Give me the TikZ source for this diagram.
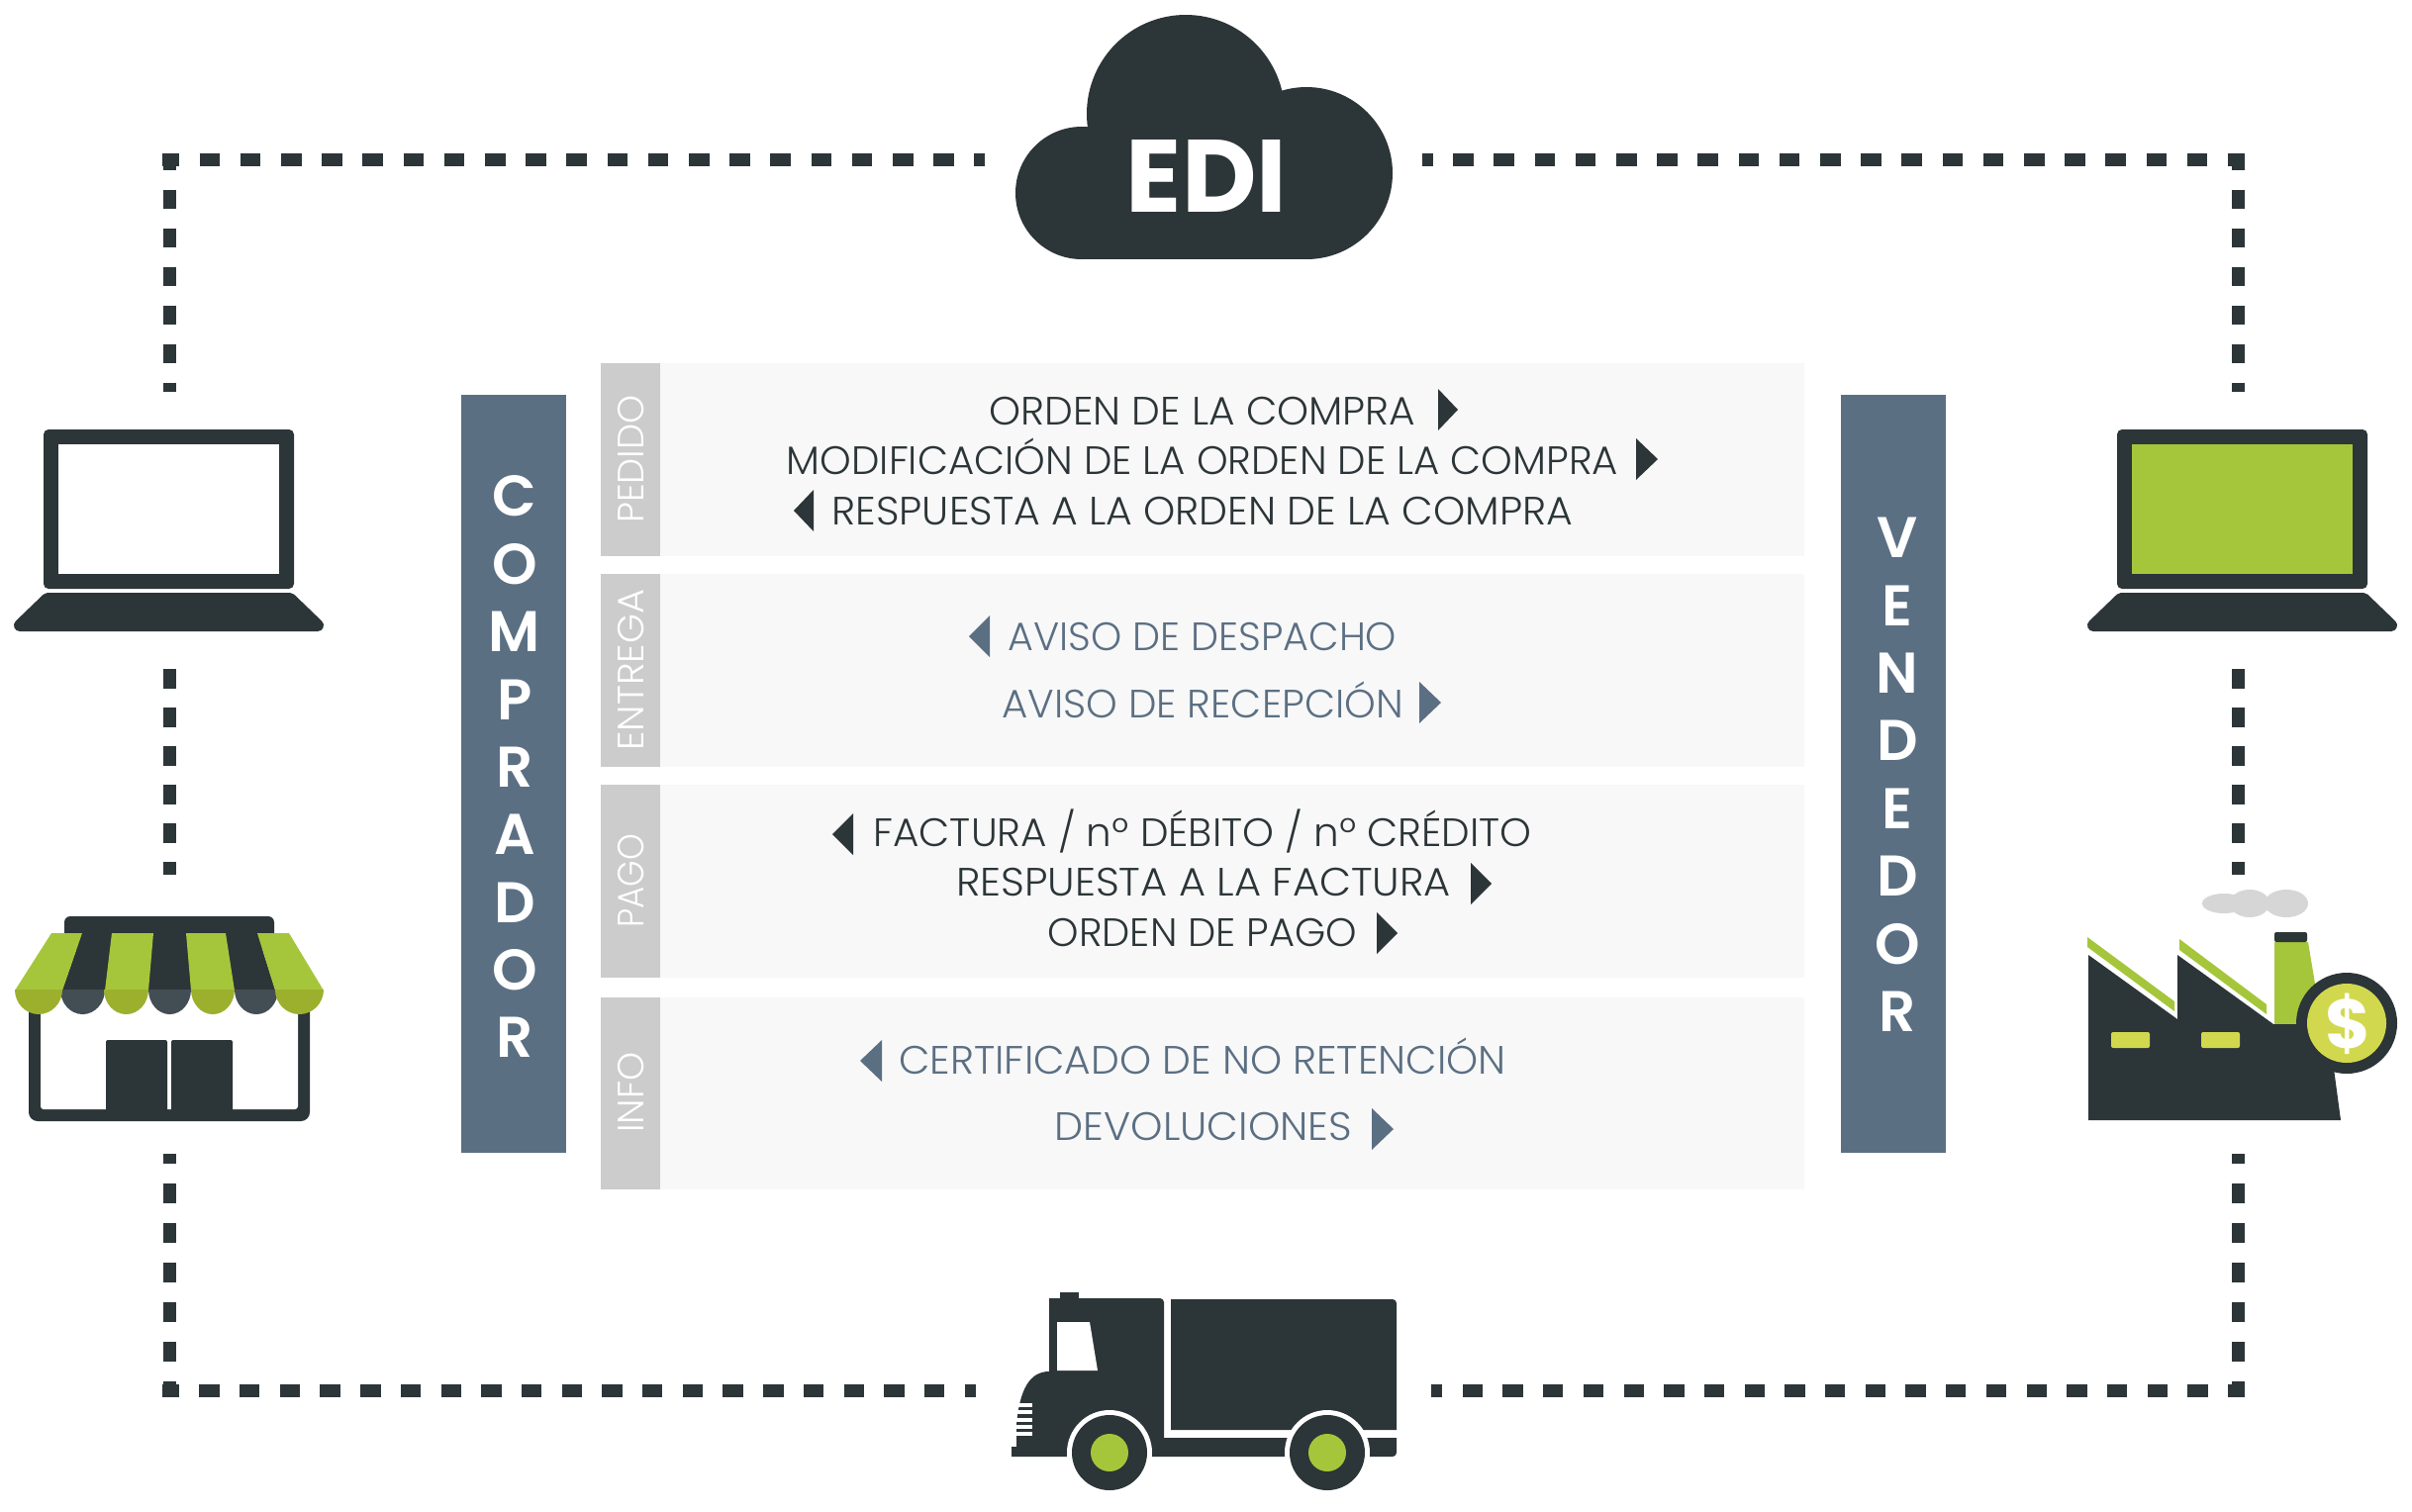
\documentclass[tikz,border=0pt]{standalone}
\usepackage{fontspec}
\setmainfont{Poppins}
\newfontfamily\lightf{Poppins Light}
\newfontfamily\boldf{Poppins SemiBold}
\newfontfamily\heavyf{Poppins Bold}
\usetikzlibrary{calc}
\definecolor{ink}{HTML}{2C3538}
\definecolor{slate}{HTML}{5B6F83}
\definecolor{tabgray}{HTML}{CCCCCC}
\definecolor{panelgray}{HTML}{F8F8F8}
\definecolor{leaf}{HTML}{A5C63B}
\definecolor{leafdark}{HTML}{9CB02E}
\definecolor{inkpale}{HTML}{434E54}
\definecolor{lemon}{HTML}{D2D84E}
\definecolor{smoke}{HTML}{D6D6D6}
\tikzset{
  x=1pt,y=-1pt,
  dotstop/.style={draw=ink,line width=13pt,dash pattern=on 20.6pt off 20.6pt,dash phase=3.6pt},
  dotsbot/.style={draw=ink,line width=13pt,dash pattern=on 20.35pt off 20.35pt,dash phase=3.35pt},
  dotsv/.style={draw=ink,line width=13pt,dash pattern=on 19.5pt off 19.5pt,dash phase=2.5pt},
  dotsvl/.style={draw=ink,line width=13pt,dash pattern=on 20pt off 20pt,dash phase=4pt},
  bar/.style={fill=slate},
  tabbox/.style={fill=tabgray},
  panelbox/.style={fill=panelgray},
  tabtext/.style={rotate=90,text=white,font=\lightf\fontsize{37}{37}\selectfont,inner sep=0pt},
  lineink/.style={anchor=base,text=ink,font=\lightf\fontsize{40}{40}\selectfont,inner sep=0pt},
  lineslate/.style={anchor=base,text=slate,font=\lightf\fontsize{40}{40}\selectfont,inner sep=0pt},
  bigletter/.style={text=white,font=\boldf\fontsize{58}{58}\selectfont,inner sep=0pt},
}
\newcommand{\rarrow}[4]{\fill[#4] (#1,#3-21) -- (#2,#3) -- (#1,#3+21) -- cycle;}
\newcommand{\hs}[2]{\scalebox{#1}[1]{#2}}
\begin{document}
\begin{tikzpicture}
\useasboundingbox (0,0) rectangle (2437,1527);
\fill[white] (0,0) rectangle (2437,1527);

% cloud
\fill[ink] (1093,195) circle (67);
\fill[ink] (1198,115) circle (100);
\fill[ink] (1320,175) circle (87);
\fill[ink] (1093,140) rectangle (1320,262);
\node[text=white,font=\heavyf\fontsize{104}{104}\selectfont,inner sep=0pt] (edi) at (1219,178) {EDI};

% named ends of the dotted links
\coordinate (tlA) at (164,161.5); \coordinate (tlB) at (995,161.5);
\coordinate (trA) at (2268,161.5); \coordinate (trB) at (1437,161.5);
\coordinate (blA) at (164,1405.5); \coordinate (blB) at (986,1405.5);
\coordinate (brA) at (2268,1405.5); \coordinate (brB) at (1446,1405.5);
\coordinate (lv1A) at (171,155); \coordinate (lv1B) at (171,396);
\coordinate (lv2A) at (171,676); \coordinate (lv2B) at (171,884);
\coordinate (lv3A) at (171,1412); \coordinate (lv3B) at (171,1166);
\coordinate (rv1A) at (2261.5,155); \coordinate (rv1B) at (2261.5,396);
\coordinate (rv2A) at (2261.5,676); \coordinate (rv2B) at (2261.5,884);
\coordinate (rv3A) at (2261.5,1412); \coordinate (rv3B) at (2261.5,1166);
\draw[dotstop] (tlA) -- (tlB);
\draw[dotstop] (trA) -- (trB);
\draw[dotsbot] (blA) -- (blB);
\draw[dotsbot] (brA) -- (brB);
\draw[dotsv] (lv1A) -- (lv1B);
\draw[dotsv,dash phase=0pt] (lv2A) -- (lv2B);
\draw[dotsvl] (lv3A) -- (lv3B);
\draw[dotsv] (rv1A) -- (rv1B);
\draw[dotsv,dash phase=0pt] (rv2A) -- (rv2B);
\draw[dotsvl] (rv3A) -- (rv3B);

% laptops
\foreach \dx/\scr in {0/white,2095/leaf}{
  \begin{scope}[xshift=\dx pt]
  \fill[ink,rounded corners=5pt] (44,434) rectangle (297,595);
  \fill[\scr] (59,449) rectangle (282,580);
  \filldraw[ink,line width=12pt,line join=round] (48,605) -- (293,605) -- (321,632) -- (20,632) -- cycle;
  \end{scope}
}

% store
\fill[ink,rounded corners=6pt] (65,926) rectangle (277,960);
\fill[ink,rounded corners=9pt] (29,1005) rectangle (313,1133);
\fill[white,rounded corners=3pt] (41,990) rectangle (301,1121);
\fill[ink,rounded corners=2pt] (107,1051) rectangle (169,1130);
\fill[ink,rounded corners=2pt] (173,1051) rectangle (235,1130);
\fill[ink] (63,1000) -- (83,943) -- (260,943) -- (278,1000) -- cycle;
\foreach \a/\b/\c/\d in {52/83/63/15,113/155/150/106,188/228/237/193,260/292/327/278}{
  \fill[leaf] (\a,943) -- (\b,943) -- (\c,1001) -- (\d,1001) -- cycle;}
\fill[inkpale] (61,1000) arc[start angle=180,end angle=0,x radius=22.5,y radius=25] -- cycle;
\fill[inkpale] (150,1000) arc[start angle=180,end angle=0,x radius=21.5,y radius=25] -- cycle;
\fill[inkpale] (237,1000) arc[start angle=180,end angle=0,x radius=22,y radius=25] -- cycle;
\fill[leafdark] (15,1000) arc[start angle=180,end angle=0,x radius=24,y radius=25] -- cycle;
\fill[leafdark] (105,1000) arc[start angle=180,end angle=0,x radius=22.5,y radius=25] -- cycle;
\fill[leafdark] (193,1000) arc[start angle=180,end angle=0,x radius=22,y radius=25] -- cycle;
\fill[leafdark] (278,1000) arc[start angle=180,end angle=0,x radius=24.5,y radius=25] -- cycle;

% factory
\fill[smoke] (2247,913) ellipse (22 and 10);
\fill[smoke] (2273,913) ellipse (20 and 14);
\fill[smoke] (2310,913) ellipse (22 and 14);
\fill[leaf] (2109,947) -- (2197,1012) -- (2197,1022) -- (2109,957) -- cycle;
\fill[leaf] (2202,949) -- (2290,1015) -- (2290,1025) -- (2202,960) -- cycle;
\fill[leaf] (2298,952) -- (2332,952) -- (2345,1030) -- (2320,1040) -- (2298,1040) -- cycle;
\fill[ink,rounded corners=2pt] (2298,942) rectangle (2331,952);
\fill[ink] (2110,965) -- (2200,1030) -- (2200,965) -- (2297,1035) -- (2340,1035) -- (2358,1080) -- (2365,1132) -- (2110,1132) -- cycle;
\fill[lemon,rounded corners=2pt] (2133,1043) rectangle (2172,1059);
\fill[lemon,rounded corners=2pt] (2224,1043) rectangle (2263,1059);
\fill[ink] (2371,1034) circle (51);
\fill[lemon] (2371,1034) circle (40);
\node[text=white,font=\heavyf\fontsize{70}{70}\selectfont,inner sep=0pt] (dollar) at (2373,1035) {\$};

% truck
\fill[ink] (1022,1472) -- (1022,1462) -- (1027,1462) -- (1027,1440) .. controls (1030,1405) and (1040,1386) .. (1060,1386) -- (1060,1312) {[rounded corners=4pt] -- (1176,1312) -- (1176,1380)} -- (1176,1453) -- (1411,1453) {[rounded corners=4pt] -- (1411,1472) -- (1300,1472)} -- cycle;
\fill[ink] (1071,1306) rectangle (1090,1314);
\fill[ink] (1183,1445) -- (1183,1313) {[rounded corners=4pt] -- (1411,1313) -- (1411,1380)} -- (1411,1445) -- cycle;
\fill[white] (1068,1336) -- (1101,1336) -- (1109,1385) -- (1068,1385) -- cycle;
\foreach \gy in {1418,1425,1433,1440,1447}{\fill[white] (1026,\gy) rectangle (1043,\gy+3.5);}
\foreach \wx in {1121,1341}{
  \fill[white] (\wx,1468) circle (43);
  \fill[ink] (\wx,1468) circle (38);
  \fill[leaf] (\wx,1468) circle (19);
}

% panels
\foreach \t/\b in {367/562,580/775,793/988,1008/1202}{
  \fill[panelbox] (667,\t) rectangle (1823,\b);
  \fill[tabbox] (607,\t) rectangle (667,\b);
}
\node[tabtext] (t1) at (638,464) {PEDIDO};
\node[tabtext] (t2) at (638,677) {\hs{1.04}{ENTREGA}};
\node[tabtext] (t3) at (638,890) {\hs{0.92}{PAGO}};
\node[tabtext] (t4) at (638,1104) {INFO};

\fill[bar] (466,399) rectangle (572,1165);
\fill[bar] (1860,399) rectangle (1966,1165);
\foreach \c/\y [count=\i] in {C/501,O/570,M/638,P/707,R/775,A/843,D/912,O/980,R/1048}{
  \node[bigletter] (cl\i) at (520,\y) {\c};}
\foreach \c/\y [count=\i] in {V/543,E/612,N/680,D/748,E/817,D/885,O/954,R/1022}{
  \node[bigletter] (vl\i) at (1917,\y) {\c};}

\node[lineink] (a1) at (1215,429) {\hs{1.018}{ORDEN DE LA COMPRA}};
\node[lineink] (a2) at (1215,479) {\hs{1.007}{MODIFICACIÓN DE LA ORDEN DE LA COMPRA}};
\node[lineink] (a3) at (1215,530) {\hs{1.025}{RESPUESTA A LA ORDEN DE LA COMPRA}};
\node[lineslate] (b1) at (1215,657) {\hs{0.992}{AVISO DE DESPACHO}};
\node[lineslate] (b2) at (1215,725) {\hs{1.008}{AVISO DE RECEPCIÓN}};
\node[lineink] (c1) at (1215,855) {\hs{1.012}{FACTURA / nº DÉBITO / nº CRÉDITO}};
\node[lineink] (c2) at (1216,905) {\hs{1.04}{RESPUESTA A LA FACTURA}};
\node[lineink] (c3) at (1215,956) {ORDEN DE PAGO};
\node[lineslate] (d1) at (1215,1085) {\hs{1.02}{CERTIFICADO DE NO RETENCIÓN}};
\node[lineslate] (d2) at (1216,1152) {\hs{1.03}{DEVOLUCIONES}};

\rarrow{1453}{1473}{414}{ink}
\rarrow{1653}{1675}{464}{ink}
\rarrow{822}{802}{516}{ink}
\rarrow{1000}{979}{643}{slate}
\rarrow{1434}{1456}{710}{slate}
\rarrow{862}{841}{843}{ink}
\rarrow{1486}{1507}{893}{ink}
\rarrow{1391}{1412}{943}{ink}
\rarrow{891}{869}{1072}{slate}
\rarrow{1386}{1408}{1141}{slate}
\end{tikzpicture}
\end{document}
